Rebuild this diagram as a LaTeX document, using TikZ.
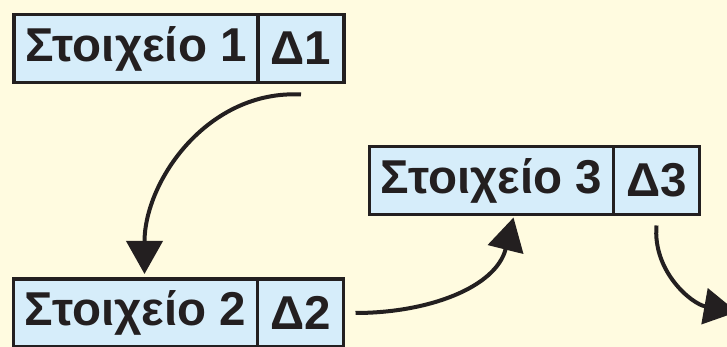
\documentclass[tikz,border=0pt]{standalone}
\usepackage{fontspec}
\setmainfont{Liberation Sans}
\usepackage{xcolor}
\usepackage{tikz}
\usetikzlibrary{arrows.meta}
\usetikzlibrary{positioning}

\definecolor{bgyellow}{RGB}{255,251,224}
\definecolor{cellblue}{RGB}{214,237,250}
\definecolor{ink}{RGB}{35,31,32}

\begin{document}
\begin{tikzpicture}[x=1pt,y=1pt,
        cellbox/.style={draw=ink,fill=cellblue,line width=3.5pt,outer sep=0pt,inner sep=0pt,
            minimum height=68pt,font=\fontsize{47.5}{56}\selectfont\bfseries,text=ink},
        itembox/.style={cellbox,minimum width=244pt},
        databox/.style={cellbox,minimum width=86pt},
        link/.style={draw=ink,line width=4pt,-{Triangle[length=33pt,width=36pt]}}]
        \fill[bgyellow] (0,0) rectangle (727,347);
        \useasboundingbox (0,0) rectangle (727,347);

        \node[itembox] (s1) at (136,298.5) {Στοιχείο 1};
        \node[databox,right=0pt of s1] (d1) {Δ1};
        \node[itembox] (s2) at (135.5,34) {Στοιχείο 2};
        \node[databox,right=0pt of s2] (d2) {Δ2};
        \node[itembox] (s3) at (491.5,166.5) {Στοιχείο 3};
        \node[databox,right=0pt of s3] (d3) {Δ3};
        \coordinate (out) at (737,35);

        \draw[link] ([yshift=-12pt]d1.south) to[out=177,in=90] ([xshift=9pt,yshift=5pt]s2.north);
        \draw[link] ([xshift=12pt]d2.east) to[out=0,in=256] ([xshift=22pt,yshift=-3pt]s3.south);
        \draw[link] ([yshift=-11pt]d3.south) to[out=265,in=170] (out);
    \end{tikzpicture}
\end{document}
